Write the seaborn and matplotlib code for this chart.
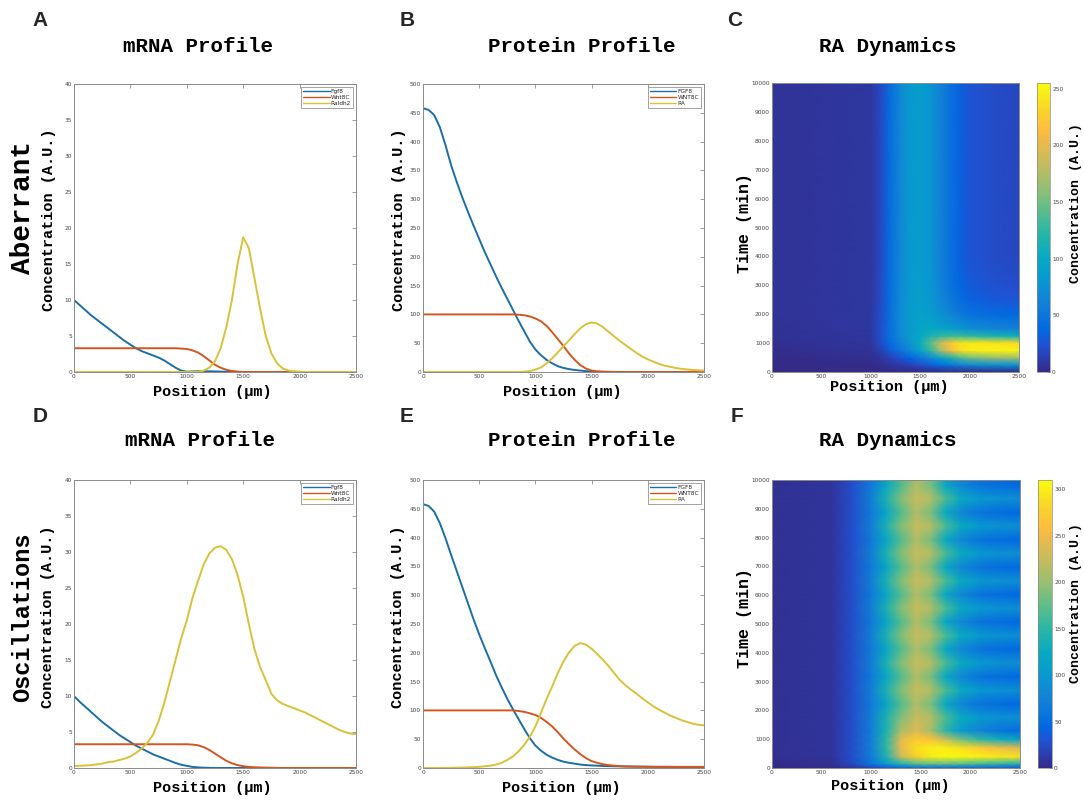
import numpy as np
import pandas as pd
import matplotlib
matplotlib.use("Agg")
import matplotlib.pyplot as plt
import seaborn as sns
from matplotlib.colors import LinearSegmentedColormap

# ---------------- data ----------------
positions = [0, 50, 100, 150, 200, 250, 300, 350, 400, 450, 500, 550, 600, 650, 700, 750,
             800, 850, 900, 950, 1000, 1050, 1100, 1150, 1200, 1250, 1300, 1350, 1400, 1450,
             1500, 1550, 1600, 1650, 1700, 1750, 1800, 1850, 1900, 1950, 2000, 2050, 2100,
             2150, 2200, 2250, 2300, 2350, 2400, 2450, 2500]

mrna_labels = ["Fgf8", "Wnt8C", "Raldh2"]
protein_labels = ["FGF8", "WNT8C", "RA"]

# Aberrant mRNA
fgf8_mrna_ab = [10, 9.3, 8.6, 7.9, 7.3, 6.7, 6.1, 5.5, 4.9, 4.3, 3.8, 3.3, 2.9, 2.6, 2.3, 2.0,
                1.6, 1.1, 0.6, 0.2, 0.05, 0.08, 0.1, 0.1, 0.1, 0.08, 0.05, 0.03, 0.02, 0.01,
                0, 0, 0, 0, 0, 0, 0, 0, 0, 0, 0, 0, 0, 0, 0, 0, 0, 0, 0, 0, 0]
wnt8c_mrna_ab = [3.3, 3.3, 3.3, 3.3, 3.3, 3.3, 3.3, 3.3, 3.3, 3.3, 3.3, 3.3, 3.3, 3.3, 3.3, 3.3,
                 3.3, 3.3, 3.3, 3.25, 3.2, 3.0, 2.7, 2.2, 1.6, 1.0, 0.6, 0.3, 0.15, 0.05,
                 0, 0, 0, 0, 0, 0, 0, 0, 0, 0, 0, 0, 0, 0, 0, 0, 0, 0, 0, 0, 0]
raldh2_mrna_ab = [0, 0, 0, 0, 0, 0, 0, 0, 0, 0, 0, 0, 0, 0, 0, 0, 0, 0, 0, 0, 0, 0, 0,
                  0.2, 0.6, 1.5, 3.3, 6.2, 10.0, 15.0, 18.7, 17.2, 13.0, 8.8, 5.0, 2.6, 1.2,
                  0.5, 0.2, 0.1, 0.05, 0, 0, 0, 0, 0, 0, 0, 0, 0, 0]

# Aberrant protein
fgf8_prot_ab = [458, 455, 446, 425, 394, 359, 330, 303, 278, 254, 231, 208, 187, 166, 146, 127,
                108, 89, 71, 53, 39, 29, 21, 15, 10, 7, 5, 3.5, 2.5, 1.5, 1, 0.6, 0.4, 0.2, 0.1,
                0, 0, 0, 0, 0, 0, 0, 0, 0, 0, 0, 0, 0, 0, 0, 0]
wnt8c_prot_ab = [100, 100, 100, 100, 100, 100, 100, 100, 100, 100, 100, 100, 100, 100, 100, 100,
                 100, 99.5, 98.5, 96.5, 93, 88, 80, 69, 57, 45, 32, 21, 12, 6, 2.5, 1, 0.4, 0.2,
                 0.1, 0, 0, 0, 0, 0, 0, 0, 0, 0, 0, 0, 0, 0, 0, 0, 0]
ra_prot_ab = [0, 0, 0, 0, 0, 0, 0, 0, 0, 0, 0, 0, 0, 0, 0, 0, 0, 0, 0.5, 1.5, 4, 8, 15, 24, 34,
              45, 55, 66, 76, 83, 86, 84, 78, 70, 62, 54, 47, 40, 33, 27, 22, 18, 14, 11, 9, 7,
              5.5, 4.5, 3.5, 3, 2.5]

# Oscillations mRNA
fgf8_mrna_osc = [10, 9.2, 8.5, 7.8, 7.1, 6.4, 5.8, 5.2, 4.6, 4.1, 3.6, 3.1, 2.7, 2.3, 1.9, 1.6,
                 1.3, 1.0, 0.7, 0.45, 0.3, 0.15, 0.08, 0.04, 0.02, 0, 0, 0, 0, 0, 0, 0, 0, 0,
                 0, 0, 0, 0, 0, 0, 0, 0, 0, 0, 0, 0, 0, 0, 0, 0, 0]
wnt8c_mrna_osc = [3.3, 3.3, 3.3, 3.3, 3.3, 3.3, 3.3, 3.3, 3.3, 3.3, 3.3, 3.3, 3.3, 3.3, 3.3, 3.3,
                  3.3, 3.3, 3.3, 3.3, 3.3, 3.25, 3.15, 2.9, 2.5, 2.0, 1.5, 1.0, 0.65, 0.4, 0.25,
                  0.15, 0.1, 0.07, 0.05, 0.03, 0.02, 0, 0, 0, 0, 0, 0, 0, 0, 0, 0, 0, 0, 0, 0]
raldh2_mrna_osc = [0.3, 0.3, 0.35, 0.4, 0.5, 0.6, 0.8, 0.9, 1.1, 1.3, 1.6, 2.1, 2.7, 3.5, 4.6,
                   6.5, 9.0, 12.0, 15.0, 18.0, 20.5, 23.6, 26.0, 28.3, 29.8, 30.6, 30.8, 30.3,
                   29.0, 26.8, 23.8, 20.0, 16.5, 14.0, 12.2, 10.3, 9.4, 8.9, 8.6, 8.3, 8.0, 7.7,
                   7.3, 6.9, 6.5, 6.1, 5.7, 5.3, 5.0, 4.8, 4.7]

# Oscillations protein
fgf8_prot_osc = [458, 455, 445, 425, 399, 370, 342, 314, 286, 258, 232, 208, 185, 161, 140, 120,
                 102, 85, 68, 52, 39, 30, 23, 18, 14, 11, 9, 7.5, 6, 5, 4.5, 4, 3.5, 3.2, 3, 2.8,
                 2.6, 2.5, 2.4, 2.3, 2.2, 2.1, 2, 2, 1.9, 1.8, 1.8, 1.7, 1.7, 1.6, 1.6]
wnt8c_prot_osc = [100, 100, 100, 100, 100, 100, 100, 100, 100, 100, 100, 100, 100, 100, 100, 100,
                  100, 99, 97.5, 95, 92, 87, 80, 72, 62, 51, 41, 32, 24, 17, 12, 9, 6.5, 5, 4,
                  3.3, 2.8, 2.5, 2.3, 2.2, 2.1, 2, 2, 2, 2, 2, 2, 2, 2, 2, 2]
ra_prot_osc = [0, 0, 0, 0.1, 0.2, 0.3, 0.5, 0.7, 1, 1.5, 2, 3, 4, 6, 9, 14, 20, 29, 40, 54, 72,
               96, 120, 142, 165, 185, 201, 212, 217, 214, 207, 198, 188, 177, 165, 153, 144,
               136, 129, 121, 114, 107, 101, 96, 91, 87, 83, 80, 77, 75, 74]

# RA dynamics, aberrant (rows = time, columns = position)
c_pos = [0, 1000, 1100, 1200, 1300, 1400, 1500, 1600, 1700, 1800, 1900, 2000, 2250, 2500]
c_time = [0, 250, 500, 750, 1000, 1250, 1500, 2000, 2500, 3000, 4000, 6000, 8000, 10000]
c_t0 = [0, 0, 0, 0, 0, 0, 0, 0, 0, 0, 0, 0, 0, 0]
c_t250 = [0, 1, 3, 6, 10, 15, 22, 30, 40, 50, 58, 66, 74, 78]
c_t500 = [1, 3, 7, 15, 25, 36, 50, 68, 90, 115, 135, 150, 165, 170]
c_t750 = [2, 5, 14, 30, 48, 68, 92, 125, 165, 205, 235, 245, 250, 250]
c_t1000 = [3, 7, 20, 40, 60, 80, 105, 140, 185, 220, 240, 245, 240, 235]
c_t1250 = [4, 7, 22, 45, 68, 85, 100, 115, 125, 130, 130, 125, 115, 105]
c_t1500 = [4, 8, 22, 46, 70, 86, 95, 98, 95, 88, 80, 72, 64, 60]
c_t2000 = [5, 8, 21, 45, 70, 86, 90, 86, 76, 64, 54, 46, 40, 37]
c_t2500 = [5, 8, 20, 44, 69, 85, 89, 82, 68, 54, 42, 34, 28, 26]
c_t3000 = [5, 8, 20, 44, 68, 84, 88, 80, 64, 49, 37, 29, 23, 21]
c_t4000 = [5, 8, 19, 43, 67, 83, 87, 79, 62, 46, 33, 25, 20, 18]
c_t6000 = [5, 8, 19, 43, 67, 83, 87, 79, 62, 46, 33, 25, 20, 18]
c_t8000 = [5, 8, 19, 43, 67, 83, 87, 79, 62, 46, 33, 25, 20, 18]
c_t10000 = [5, 8, 19, 43, 67, 83, 87, 79, 62, 46, 33, 25, 20, 18]
c_max = 255

# RA dynamics, oscillations
f_pos = [0, 600, 800, 1000, 1150, 1300, 1450, 1600, 1750, 1900, 2100, 2300, 2500]
f_time = [0, 150, 400, 700, 1000, 1300, 1750, 2225, 2700, 3175, 3650, 4125, 4600, 5075, 5550,
          6025, 6500, 6975, 7450, 7925, 8400, 8875, 9350, 9825, 10000]
f_t0 = [0, 2, 8, 20, 30, 38, 42, 45, 45, 42, 38, 34, 30]
f_t150 = [2, 6, 22, 60, 105, 145, 170, 180, 180, 172, 162, 152, 142]
f_t400 = [4, 8, 26, 70, 140, 225, 275, 298, 306, 306, 300, 295, 290]
f_t700 = [5, 8, 26, 72, 150, 245, 288, 300, 300, 290, 272, 252, 235]
f_t1000 = [5, 8, 26, 72, 150, 242, 272, 262, 225, 185, 152, 130, 112]
f_t1300 = [5, 8, 26, 70, 140, 210, 238, 208, 150, 105, 75, 58, 50]
f_light = [5, 8, 26, 72, 140, 190, 225, 215, 165, 125, 100, 92, 88]
f_dark = [5, 8, 26, 66, 118, 168, 212, 185, 120, 80, 58, 50, 46]
f_max = 310

# ---------------- style ----------------
sns.set_style("white")
plt.rcParams["font.family"] = ["DejaVu Sans"]
MONO = "Liberation Mono"
SANS = "Liberation Sans"
line_colors = ["#1b6fa6", "#d4561f", "#d9c23a"]
parula = LinearSegmentedColormap.from_list("parula", [
    (0.000, (0.2081, 0.1663, 0.5292)),
    (0.095, (0.1253, 0.3242, 0.8303)),
    (0.143, (0.0060, 0.4086, 0.8828)),
    (0.238, (0.0779, 0.5040, 0.8384)),
    (0.317, (0.0343, 0.5966, 0.8199)),
    (0.397, (0.0267, 0.6642, 0.7607)),
    (0.476, (0.1453, 0.7098, 0.6646)),
    (0.556, (0.3482, 0.7424, 0.5473)),
    (0.635, (0.5709, 0.7485, 0.4494)),
    (0.714, (0.7525, 0.7384, 0.3768)),
    (0.794, (0.9139, 0.7258, 0.3063)),
    (0.841, (0.9938, 0.7455, 0.2403)),
    (0.905, (0.9789, 0.8271, 0.1633)),
    (1.000, (0.9763, 0.9831, 0.0538)),
])

W, H = 1084, 801
fig = plt.figure(figsize=(W / 100, H / 100), dpi=100)


def px_axes(l, t, r, b):
    return fig.add_axes([l / W, 1 - b / H, (r - l) / W, (b - t) / H])


def ftext(x, y, s, **kw):
    fig.text(x / W, 1 - y / H, s, ha="center", va="center", **kw)


def style_axes(ax, size=4.2):
    for sp in ax.spines.values():
        sp.set_visible(True)
        sp.set_color("#8a8a8a")
        sp.set_linewidth(0.7)
    ax.tick_params(direction="in", top=True, right=True, length=3, width=0.5,
                   color="#777777", labelsize=size, labelcolor="#444444", pad=1.5)
    ax.set_xlabel("")
    ax.set_ylabel("")


def line_panel(box, series, labels, ymax, ystep):
    ax = px_axes(*box)
    frames = []
    for lab, vals in zip(labels, series):
        frames.append(pd.DataFrame({"pos": positions, "value": vals, "species": lab}))
    df = pd.concat(frames, ignore_index=True)
    sns.lineplot(data=df, x="pos", y="value", hue="species", hue_order=labels,
                 palette=line_colors, linewidth=1.4, ax=ax)
    ax.set_xlim(0, 2500)
    ax.set_ylim(0, ymax)
    ax.set_xticks(range(0, 2501, 500))
    ax.set_yticks(np.arange(0, ymax + 0.1, ystep))
    style_axes(ax)
    h, l = ax.get_legend_handles_labels()
    leg = ax.legend(h, l, loc="upper right", fontsize=4.2, frameon=True, fancybox=False,
                    edgecolor="#777777", handlelength=4.5, handletextpad=0.2,
                    labelspacing=0.15, borderpad=0.35, borderaxespad=0.5)
    leg.get_frame().set_linewidth(0.6)
    for ln in leg.get_lines():
        ln.set_linewidth(1.0)
    return ax


def heat_panel(box, cbox, xs, ts, rows, vmax, cticks):
    ax = px_axes(*box)
    m = ax.pcolormesh(xs, ts, np.array(rows, dtype=float), shading="gouraud",
                      cmap=parula, vmin=0, vmax=vmax)
    ax.set_xlim(0, 2500)
    ax.set_ylim(0, 10000)
    ax.set_xticks(range(0, 2501, 500))
    ax.set_yticks(range(0, 10001, 1000))
    style_axes(ax)
    cax = px_axes(*cbox)
    cb = fig.colorbar(m, cax=cax)
    cb.set_ticks(cticks)
    cb.outline.set_linewidth(0.5)
    cb.outline.set_edgecolor("#8a8a8a")
    cax.tick_params(direction="in", length=2, width=0.5, color="#555555",
                    labelsize=4.2, labelcolor="#444444", pad=1.5)
    return ax


# ---------------- panels ----------------
line_panel((74, 84, 356, 372), [fgf8_mrna_ab, wnt8c_mrna_ab, raldh2_mrna_ab],
           mrna_labels, 40, 5)
line_panel((423, 84, 704, 372), [fgf8_prot_ab, wnt8c_prot_ab, ra_prot_ab],
           protein_labels, 500, 50)
heat_panel((772, 83, 1019, 372), (1037, 83, 1050, 372), c_pos, c_time,
           [c_t0, c_t250, c_t500, c_t750, c_t1000, c_t1250, c_t1500, c_t2000, c_t2500,
            c_t3000, c_t4000, c_t6000, c_t8000, c_t10000],
           c_max, [0, 50, 100, 150, 200, 250])

line_panel((74, 480, 356, 768), [fgf8_mrna_osc, wnt8c_mrna_osc, raldh2_mrna_osc],
           mrna_labels, 40, 5)
line_panel((423, 480, 704, 768), [fgf8_prot_osc, wnt8c_prot_osc, ra_prot_osc],
           protein_labels, 500, 50)
heat_panel((772, 480, 1020, 768), (1038, 480, 1052, 768), f_pos, f_time,
           [f_t0, f_t150, f_t400, f_t700, f_t1000, f_t1300,
            f_light, f_dark, f_light, f_dark, f_light, f_dark, f_light, f_dark, f_light,
            f_dark, f_light, f_dark, f_light, f_dark, f_light, f_dark, f_light, f_dark,
            f_dark],
           f_max, [0, 50, 100, 150, 200, 250, 300])

# ---------------- texts ----------------
bold_mono = dict(family=MONO, weight="bold", color="black")
for (x, y), s in zip([(198, 46), (582, 46), (888, 46), (200, 441), (582, 441), (888, 441)],
                     ["mRNA Profile", "Protein Profile", "RA Dynamics",
                      "mRNA Profile", "Protein Profile", "RA Dynamics"]):
    ftext(x, y, s, fontsize=15, **bold_mono)

for (x, y), s in zip([(40, 21), (407, 21), (735, 21), (40, 416), (407, 416), (737, 416)],
                     ["A", "B", "C", "D", "E", "F"]):
    ftext(x, y, s, fontsize=15, family=SANS, weight="bold")

for x, y in [(212, 392), (562, 392), (889, 387), (212, 788), (561, 788), (890, 786)]:
    ftext(x, y, "Position (µm)", fontsize=11, **bold_mono)

for x, y in [(49, 220), (399, 220), (48, 617), (398, 617)]:
    ftext(x, y, "Concentration (A.U.)", fontsize=11, rotation=90, **bold_mono)

for x, y in [(745, 223), (745, 618)]:
    ftext(x, y, "Time (min)", fontsize=12, rotation=90, **bold_mono)

for x, y in [(1076, 203), (1076, 603)]:
    ftext(x, y, "Concentration (A.U.)", fontsize=9.5, rotation=90, **bold_mono)

ftext(23, 208, "Aberrant", fontsize=20, rotation=90, **bold_mono)
ftext(23, 617, "Oscillations", fontsize=17, rotation=90, **bold_mono)

fig.savefig("out.png", dpi=100)
